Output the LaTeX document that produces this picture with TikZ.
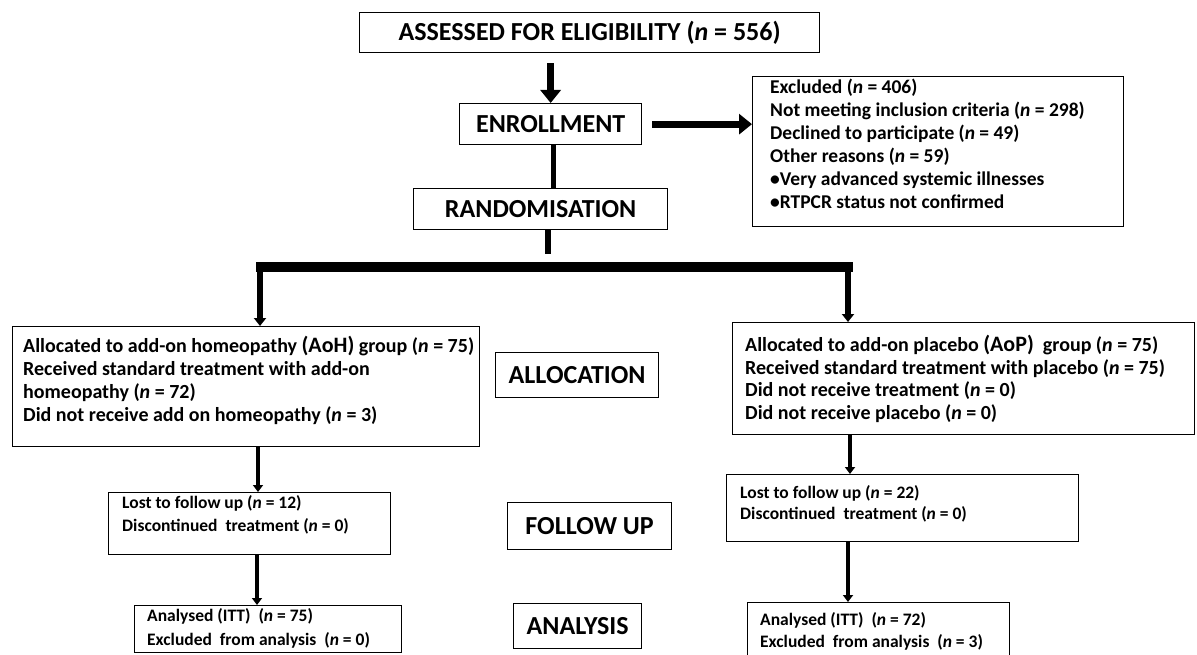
\documentclass[tikz,border=0pt]{standalone}
\usepackage{fontspec}
\setmainfont{Carlito}
\usetikzlibrary{arrows.meta}
\newcommand{\nv}[1]{(\textit{n} = #1)}
\newcommand{\abbr}[1]{{\fontsize{22}{22}\selectfont(#1)}}
\begin{document}
\begin{tikzpicture}[x=1pt,y=-1pt,
  box/.style={draw=black, line width=1.3pt, inner sep=0pt, anchor=north west},
  head/.style={font=\fontsize{26}{26}\selectfont\bfseries},
  body/.style={font=\fontsize{20}{#1}\selectfont\bfseries, align=left, anchor=north west, inner sep=0pt},
  excltext/.style={font=\fontsize{19.5}{#1}\selectfont\bfseries, align=left, anchor=north west, inner sep=0pt},
  small/.style={font=\fontsize{17.5}{#1}\selectfont\bfseries, align=left, anchor=north west, inner sep=0pt},
  bigarrow/.style={line width=7pt, -{Triangle[width=20pt,length=13pt]}},
  bararrow/.style={line width=6pt, -{Triangle[width=12pt,length=8pt]}},
  smallarrow/.style={line width=4.5pt, -{Triangle[width=10pt,length=7pt]}},
]
\useasboundingbox[fill=white] (0,0) rectangle (1197,655);

% boxes
\node[box, head, minimum width=460, minimum height=40] (top) at (359,12) {ASSESSED FOR ELIGIBILITY \nv{556}};
\node[box, head, minimum width=182, minimum height=41] (enr) at (459,103) {ENROLLMENT};
\node[box, head, minimum width=254, minimum height=41] (rand) at (413,188) {RANDOMISATION};
\node[box, minimum width=371, minimum height=150] (excl) at (752,76) {};
\node[excltext=23] (exclt) at (770,79) {Excluded \nv{406}\\Not meeting inclusion criteria \nv{298}\\Declined to participate \nv{49}\\Other reasons \nv{59}\\\textbullet Very advanced systemic illnesses\\\textbullet RTPCR status not confirmed};

\node[box, minimum width=467, minimum height=120] (alloL) at (12,326) {};
\node[body=23] (alloLt) at (23,336) {Allocated to add-on homeopathy \abbr{AoH} group \nv{75}\\Received standard treatment with add-on\\homeopathy \nv{72}\\Did not receive add on homeopathy \nv{3}};
\node[box, head, minimum width=163, minimum height=45] (alloc) at (495,352) {ALLOCATION};
\node[box, minimum width=462, minimum height=112] (alloR) at (732,322) {};
\node[body=22.5] (alloRt) at (745,335) {Allocated to add-on placebo \abbr{AoP}\ \ group \nv{75}\\Received standard treatment with placebo \nv{75}\\Did not receive treatment \nv{0}\\Did not receive placebo \nv{0}};

\node[box, minimum width=282, minimum height=62] (lostL) at (108,492) {};
\node[small=22.5] (lostLt) at (122,495.5) {Lost to follow up \nv{12}\\Discontinued\ \ treatment \nv{0}};
\node[box, head, minimum width=164, minimum height=47] (follow) at (507,502) {FOLLOW UP};
\node[box, minimum width=352, minimum height=67] (lostR) at (726,474) {};
\node[small=21] (lostRt) at (740,485.5) {Lost to follow up \nv{22}\\Discontinued\ \ treatment \nv{0}};

\node[box, minimum width=267, minimum height=47] (anaL) at (134,605) {};
\node[small=23.5] (anaLt) at (147,608.5) {Analysed (ITT)\ \ \nv{75}\\Excluded\ \ from analysis\ \ \nv{0}};
\node[box, head, minimum width=128, minimum height=45] (anal) at (513,603) {ANALYSIS};
\node[box, minimum width=262, minimum height=60] (anaR) at (747,602) {};
\node[small=22] (anaRt) at (760,612.5) {Analysed (ITT)\ \ \nv{72}\\Excluded\ \ from analysis\ \ \nv{3}};

% connectors
\draw[bigarrow] ([yshift=-10pt]enr.north |- top.south) -- (enr.north);
\draw[bigarrow] ([xshift=10pt]enr.east) -- (enr.east -| excl.west);
\draw[line width=5pt] ([xshift=3pt]enr.south) -- ([xshift=3pt]enr.south |- rand.north);
\coordinate (stubend) at (548,254);
\coordinate (barL) at (260,267);
\coordinate (barR) at (848,267);
\draw[line width=6pt] (rand.south -| stubend) -- (stubend);
\draw[line width=9pt, line cap=rect] (barL) -- (barR);
\draw[bararrow] (barL) -- (alloL.north -| barL);
\draw[bararrow] (barR) -- (alloR.north -| barR);
\draw[smallarrow] (alloL.south -| 258,0) -- (lostL.north -| 258,0);
\draw[smallarrow] (lostL.south -| 257,0) -- (anaL.north -| 257,0);
\draw[smallarrow] (alloR.south -| 850,0) -- (lostR.north -| 850,0);
\draw[smallarrow] (lostR.south -| 848,0) -- (anaR.north -| 848,0);
\end{tikzpicture}
\end{document}
